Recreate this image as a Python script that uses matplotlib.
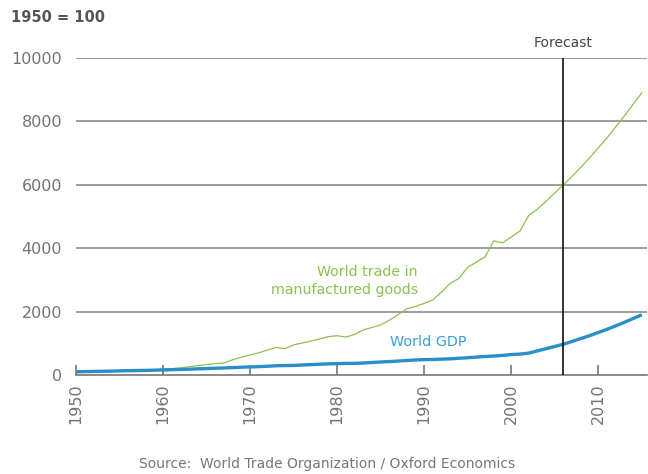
import numpy as np
import matplotlib
matplotlib.use("Agg")
import matplotlib.pyplot as plt

# index values, 1950 = 100
years = list(range(1950, 2016))
trade = [100, 105, 108, 115, 122, 135, 145, 152, 155, 170,
         185, 200, 225, 260, 295, 330, 360, 380, 480, 560,
         630, 700, 790, 870, 830, 950, 1010, 1070, 1140, 1210,
         1240, 1195, 1280, 1420, 1500, 1580, 1730, 1900, 2090, 2160,
         2260, 2370, 2620, 2890, 3050, 3400, 3560, 3730, 4230, 4170,
         4350, 4540, 5030, 5230, 5480, 5740, 6000, 6270, 6550, 6850,
         7160, 7480, 7820, 8170, 8540, 8900]
gdp = [100, 107, 112, 118, 122, 130, 136, 141, 145, 152,
       160, 167, 175, 183, 194, 203, 213, 222, 233, 245,
       255, 264, 275, 292, 298, 302, 316, 328, 340, 352,
       358, 365, 368, 378, 395, 410, 423, 440, 458, 474,
       485, 490, 500, 510, 528, 545, 565, 585, 598, 618,
       645, 660, 690, 760, 830, 900, 970, 1060, 1150, 1240,
       1340, 1440, 1550, 1660, 1780, 1900]
forecast_year = 2006
yticks = [0, 2000, 4000, 6000, 8000, 10000]
xticks = [1950, 1960, 1970, 1980, 1990, 2000, 2010]

green = '#8dc14f'
blue = '#2a8fc9'
grey_txt = '#737373'

plt.rcParams['font.family'] = ['DejaVu Sans']

fig = plt.figure(figsize=(6.48, 4.74), dpi=100)
fig.set_facecolor('w')
ax = fig.add_axes([76 / 648, 99 / 474, 571 / 648, 317 / 474])

for y in yticks[1:]:
    ax.axhline(y, color='#8c8c8c', lw=1.2, zorder=1)

ax.plot(years, trade, color=green, lw=0.9, zorder=3)
ax.plot(years, gdp, color=blue, lw=2.4, zorder=4, solid_capstyle='butt')
ax.plot([forecast_year, forecast_year], [0, 10000], color='#111111', lw=1.2, zorder=5)

ax.set_xlim(1950, 2015.6)
ax.set_ylim(0, 10000)
for s in ['top', 'right', 'left']:
    ax.spines[s].set_visible(False)
ax.spines['bottom'].set_color('#777777')
ax.spines['bottom'].set_linewidth(1.2)

ax.set_yticks(yticks)
ax.set_yticklabels([str(v) for v in yticks])
ax.set_xticks(xticks)
ax.set_xticklabels([str(v) for v in xticks], rotation=90)
ax.tick_params(axis='y', length=0, pad=10, labelsize=11.5, labelcolor=grey_txt)
ax.tick_params(axis='x', direction='in', length=7, width=1.2, color='#777777',
               pad=6, labelsize=11.5, labelcolor=grey_txt)

ax.text(forecast_year, 10250, 'Forecast', ha='center', va='bottom',
        fontsize=10, color='#444444')
ax.text(1989.3, 2960, 'World trade in\nmanufactured goods', ha='right', va='center',
        fontsize=10.2, color=green, linespacing=1.35)
ax.text(1986.1, 1040, 'World GDP', ha='left', va='center', fontsize=10.4, color='#3a9fd6')

fig.text(11 / 648, 1 - 17 / 474, '1950 = 100', ha='left', va='center',
         fontsize=10.5, fontweight='bold', color='#555555')
fig.text(327 / 648, 1 - 464 / 474, 'Source:  World Trade Organization / Oxford Economics',
         ha='center', va='center', fontsize=10, color='#777777')

fig.savefig('out.png', dpi=100)
